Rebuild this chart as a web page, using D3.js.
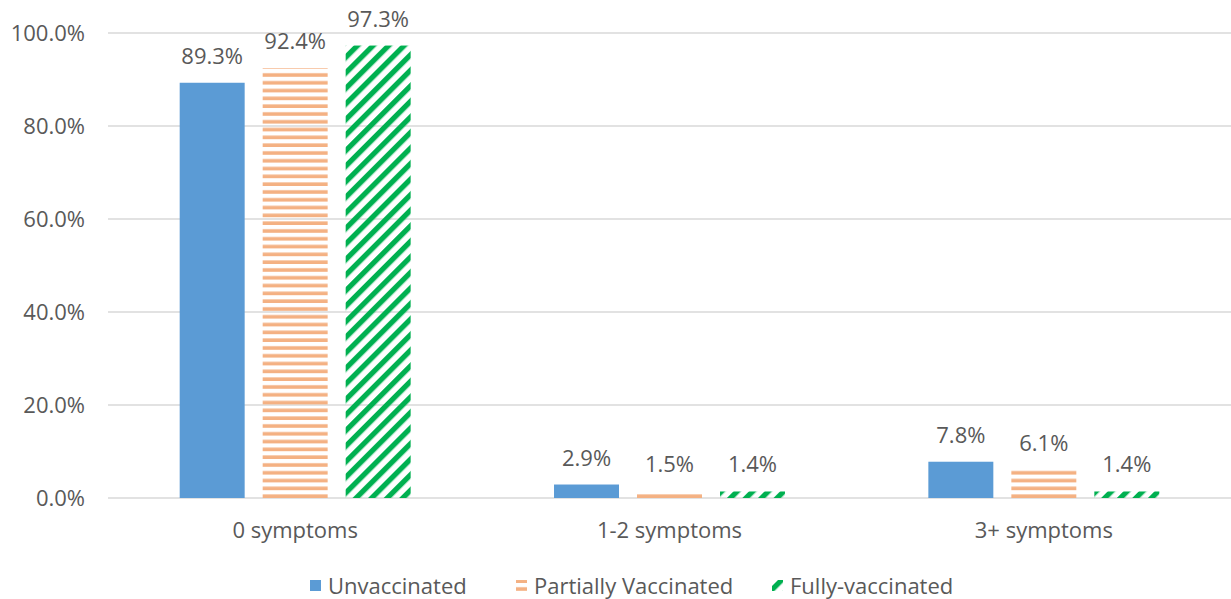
<!DOCTYPE html>
<html lang="en">
<head>
    <meta charset="UTF-8">
    <title>Symptoms by vaccination status</title>
    <script src="https://d3js.org/d3.v7.min.js"></script>
    <style>
        body { margin: 0; background: #fff; }
        text { font-family: "Open Sans", Lato, sans-serif; fill: #595959; }
        .grid line { stroke: #d9d9d9; stroke-width: 1.5; }
    </style>
</head>
<body>
    <script>
        // data
        const categories = ["0 symptoms", "1-2 symptoms", "3+ symptoms"];
        const seriesNames = ["Unvaccinated", "Partially Vaccinated", "Fully-vaccinated"];
        const unvaccinated = [89.3, 2.9, 7.8];
        const partially = [92.4, 1.5, 6.1];
        const fully = [97.3, 1.4, 1.4];
        const yTicks = [0, 20, 40, 60, 80, 100];

        const values = [unvaccinated, partially, fully];

        const width = 1231, height = 599;
        const margin = {top: 33, right: 0, bottom: 101, left: 108};
        const innerW = width - margin.left - margin.right;
        const innerH = height - margin.top - margin.bottom;
        const fontSize = 22;

        const svg = d3.select("body").append("svg")
            .attr("width", width)
            .attr("height", height);

        // patterns (stripes lined up with the baseline)
        const defs = svg.append("defs");
        const pOrange = defs.append("pattern")
            .attr("id", "horiz")
            .attr("patternUnits", "userSpaceOnUse")
            .attr("y", innerH)
            .attr("width", 8).attr("height", 7.8);
        pOrange.append("rect").attr("y", 4.2).attr("width", 8).attr("height", 3.6).attr("fill", "#F4B183");

        const pGreen = defs.append("pattern")
            .attr("id", "diag")
            .attr("patternUnits", "userSpaceOnUse")
            .attr("width", 11).attr("height", 11)
            .attr("patternTransform", "rotate(45)");
        pGreen.append("rect").attr("width", 5.3).attr("height", 11).attr("fill", "#00B050");

        const fills = ["#5B9BD5", "url(#horiz)", "url(#diag)"];

        const g = svg.append("g")
            .attr("transform", "translate(" + margin.left + "," + margin.top + ")");

        const x0 = d3.scaleBand().domain(categories).range([0, innerW]).paddingInner(0.383).paddingOuter(0.1915);
        const x1 = d3.scaleBand().domain(seriesNames).range([0, x0.bandwidth()]).paddingInner(0.217).paddingOuter(0);
        const y = d3.scaleLinear().domain([0, 100]).range([innerH, 0]);

        // gridlines
        g.append("g").attr("class", "grid")
            .selectAll("line").data(yTicks).join("line")
            .attr("x1", 0).attr("x2", innerW)
            .attr("y1", d => y(d)).attr("y2", d => y(d));

        // y axis labels
        const yAxis = g.append("g")
            .call(d3.axisLeft(y).tickValues(yTicks).tickFormat(d => d.toFixed(1) + "%").tickSize(0).tickPadding(23));
        yAxis.select(".domain").remove();
        yAxis.selectAll("text").attr("font-size", fontSize).attr("fill", "#595959")
            .style("font-family", "'Open Sans', Lato, sans-serif");

        // x axis labels
        const xAxis = g.append("g")
            .attr("transform", "translate(0," + innerH + ")")
            .call(d3.axisBottom(x0).tickSize(0).tickPadding(24));
        xAxis.select(".domain").remove();
        xAxis.selectAll("text").attr("font-size", fontSize).attr("fill", "#595959")
            .style("font-family", "'Open Sans', Lato, sans-serif");

        // bars
        const groups = g.selectAll(".cat").data(categories).join("g")
            .attr("transform", d => "translate(" + x0(d) + ",0)");

        groups.selectAll("rect")
            .data((c, ci) => seriesNames.map((s, si) => ({s, si, v: values[si][ci]})))
            .join("rect")
            .attr("x", d => x1(d.s))
            .attr("y", d => y(d.v))
            .attr("width", x1.bandwidth())
            .attr("height", d => innerH - y(d.v))
            .attr("fill", d => fills[d.si]);

        groups.selectAll(".lbl")
            .data((c, ci) => seriesNames.map((s, si) => ({s, si, v: values[si][ci]})))
            .join("text")
            .attr("class", "lbl")
            .attr("x", d => x1(d.s) + x1.bandwidth() / 2)
            .attr("y", d => y(d.v) - 19)
            .attr("text-anchor", "middle")
            .attr("font-size", fontSize)
            .text(d => d.v.toFixed(1) + "%");

        // legend
        const legendX = [310, 516, 772];
        const legend = svg.append("g").attr("transform", "translate(0,586)");
        const items = legend.selectAll("g").data(seriesNames).join("g")
            .attr("transform", (d, i) => "translate(" + legendX[i] + ",0)");
        items.append("rect")
            .attr("x", 0).attr("y", -6).attr("width", 11).attr("height", 11)
            .attr("fill", (d, i) => fills[i]);
        items.append("text")
            .attr("x", 18).attr("y", 0).attr("dy", "0.35em")
            .attr("font-size", fontSize)
            .text(d => d);
    </script>
</body>
</html>
